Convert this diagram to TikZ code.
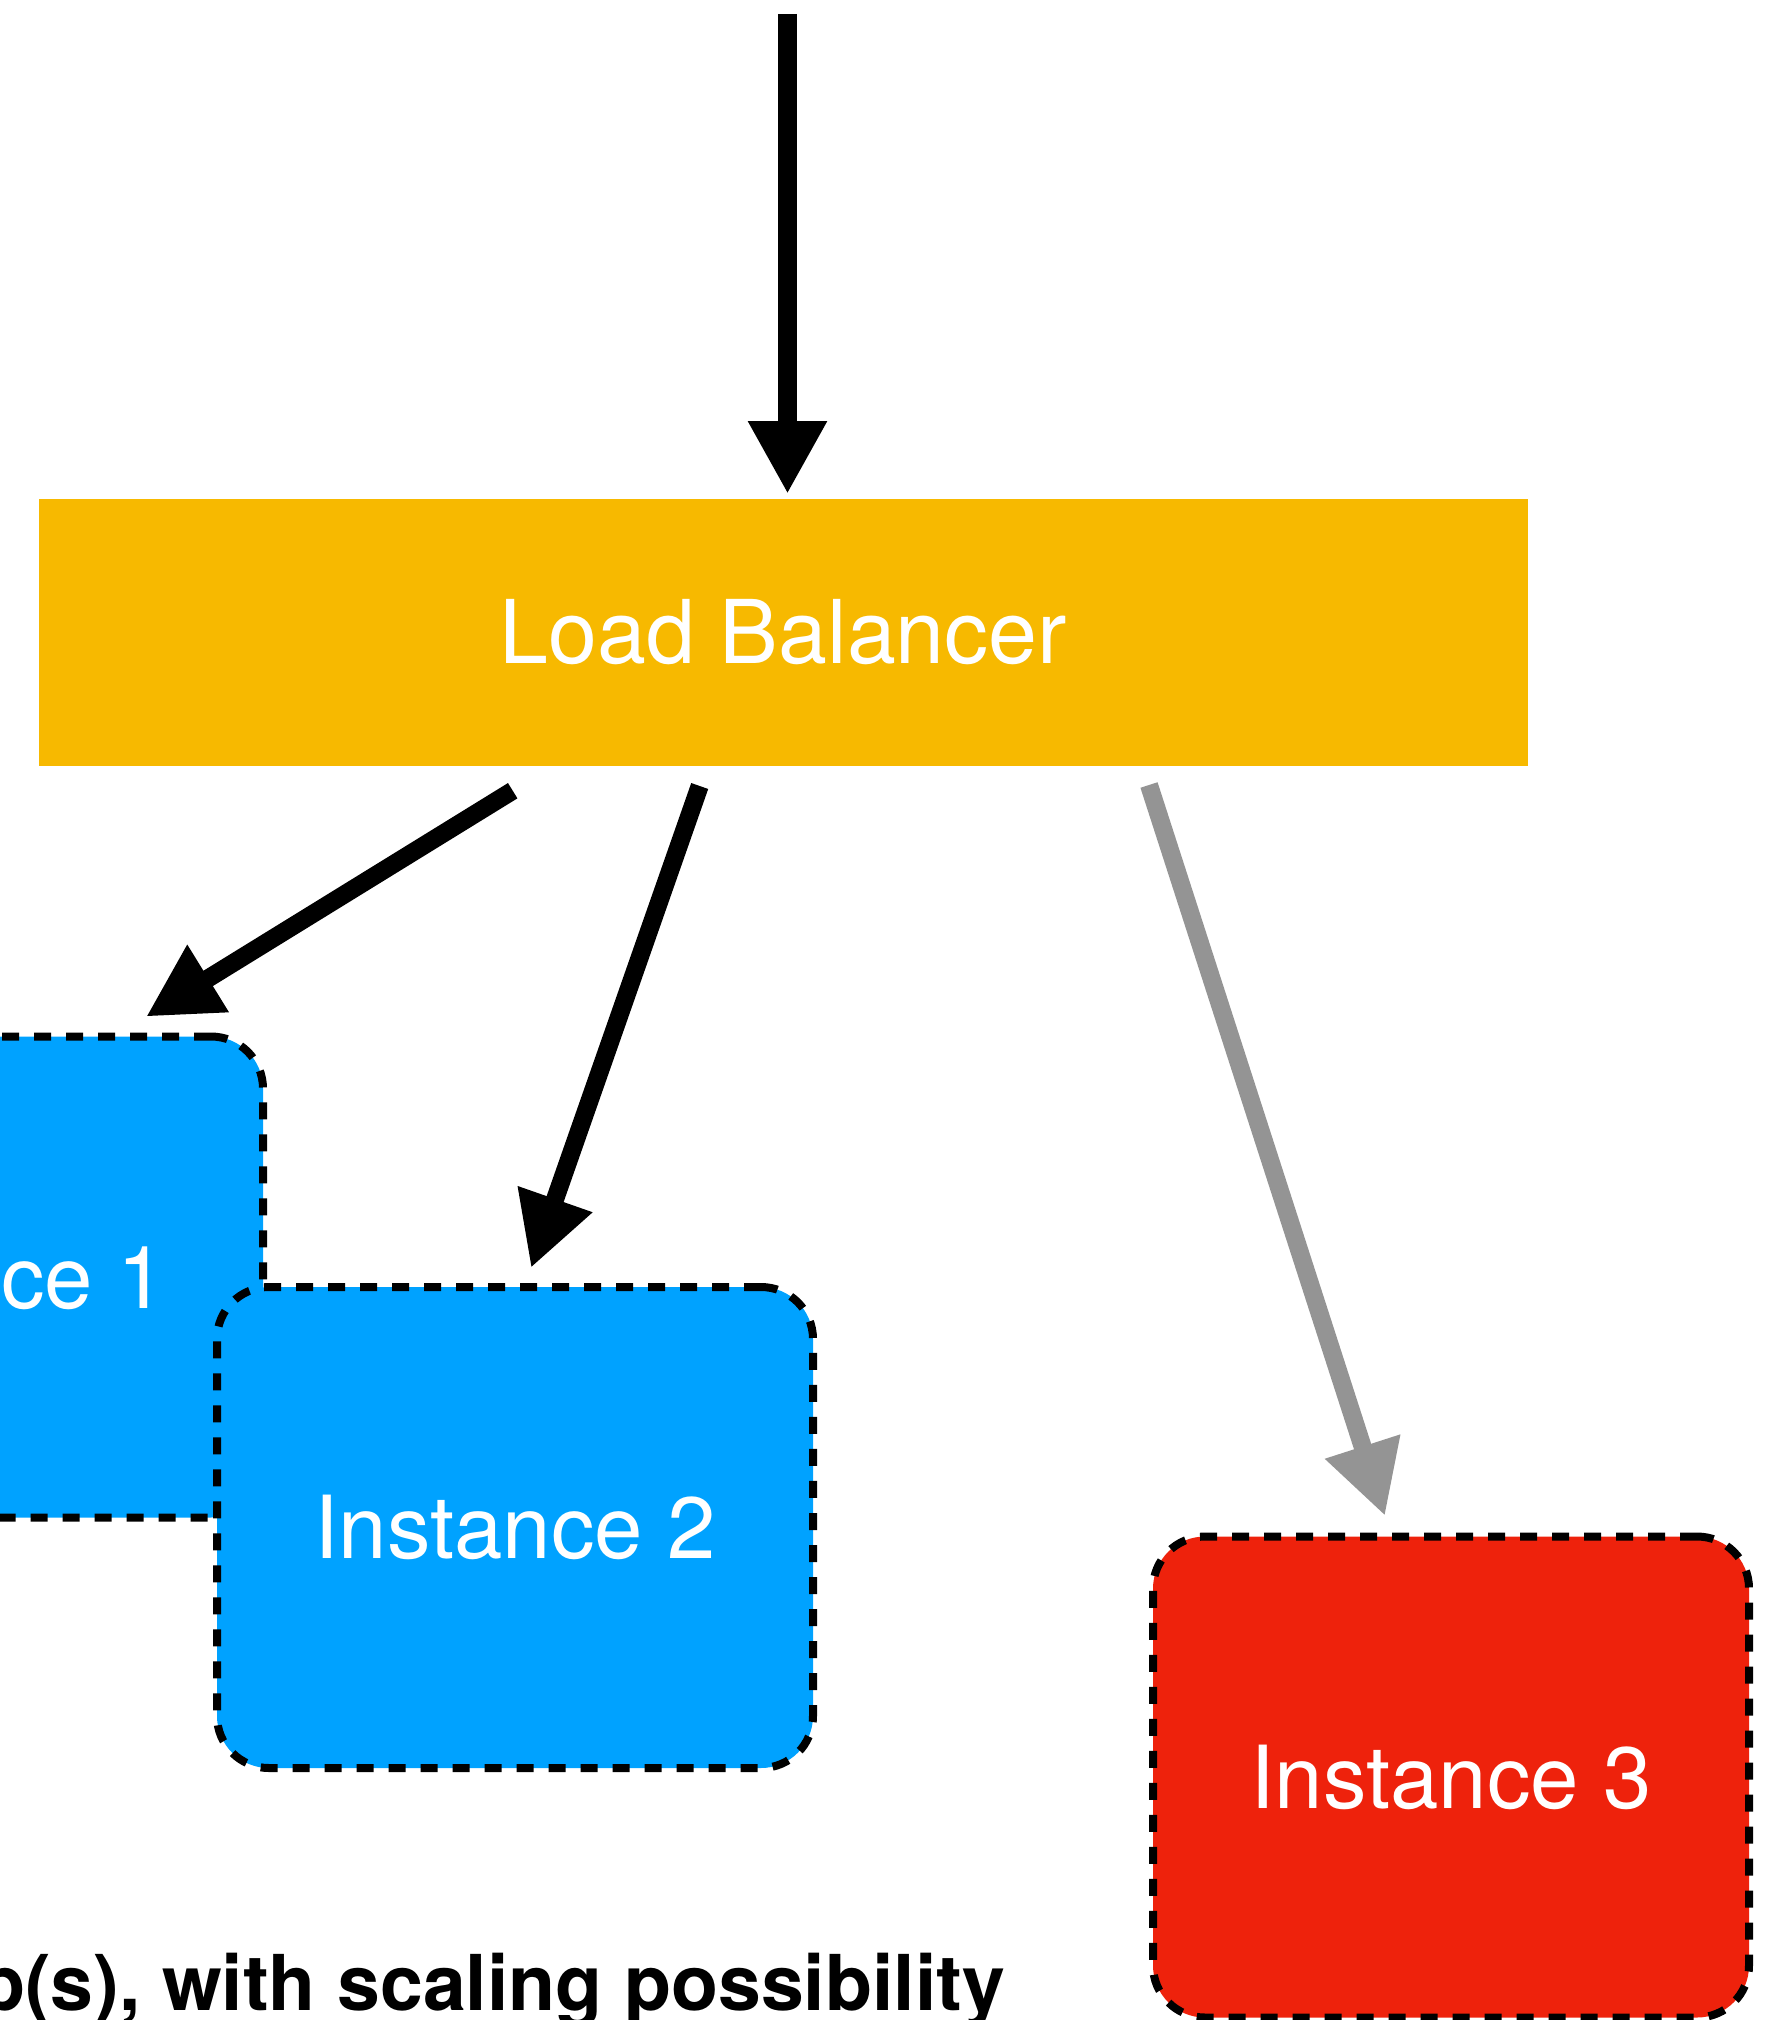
\documentclass[tikz,border=0pt]{standalone}
\usepackage{fontspec}
\setmainfont{TeX Gyre Heros}
\usetikzlibrary{arrows.meta}

\definecolor{lbyellow}{HTML}{F7B900}
\definecolor{instblue}{HTML}{00A2FF}
\definecolor{instred}{HTML}{EE220C}
\definecolor{flowgray}{HTML}{949494}

\begin{document}
\begin{tikzpicture}[x=1pt,y=1pt,
  instance/.style={rectangle, rounded corners=52pt,
    minimum width=596pt, minimum height=481pt,
    inner sep=0pt, outer sep=0pt,
    draw=black, line width=8pt, dash pattern=on 17pt off 15pt,
    text=white, font=\fontsize{87}{100}\selectfont},
  balancer/.style={rectangle, fill=lbyellow, draw=none,
    minimum width=1489pt, minimum height=267pt,
    inner sep=0pt, outer sep=0pt,
    text=white, font=\fontsize{88}{100}\selectfont},
  flow/.style={line width=18pt, draw=black,
    -{Triangle[length=73pt,width=74pt]}},
  caption/.style={font=\fontsize{77}{90}\selectfont\bfseries, text=black,
    inner sep=0pt, outer sep=0pt}
]
\useasboundingbox (0,0) rectangle (1768,-2020);
\clip (0,0) rectangle (1768,-2020);

% instances (the first one runs off the left edge)
\node[instance, fill=instblue] (inst1) at (-35,-1277) {Instance 1};
\node[instance, fill=instblue] (inst2) at (515,-1527.5) {Instance 2};
\node[instance, fill=instred]  (inst3) at (1451,-1777) {Instance 3};

% load balancer
\node[balancer] (lb) at (783.4,-632) {Load Balancer};

% connector end points
\coordinate (client) at (787.5,-14);
\coordinate (lb-in)  at (787.5,-494);
\coordinate (lb-o1)  at (512.7,-790.7);
\coordinate (lb-o2)  at (699.7,-786);
\coordinate (lb-o3)  at (1149,-785);
\coordinate (i1-in)  at (146,-1016.7);
\coordinate (i2-in)  at (531,-1268);
\coordinate (i3-in)  at (1385,-1516);

% traffic flow
\draw[flow, line width=19pt] (client) -- (lb-in);
\draw[flow] (lb-o1) -- (i1-in);
\draw[flow] (lb-o2) -- (i2-in);
\draw[flow, draw=flowgray, fill=flowgray] (lb-o3) -- (i3-in);

% caption
\node[caption, anchor=base east] (cap) at (1005,-2010)
  {p(s), with scaling possibility};
\end{tikzpicture}
\end{document}
